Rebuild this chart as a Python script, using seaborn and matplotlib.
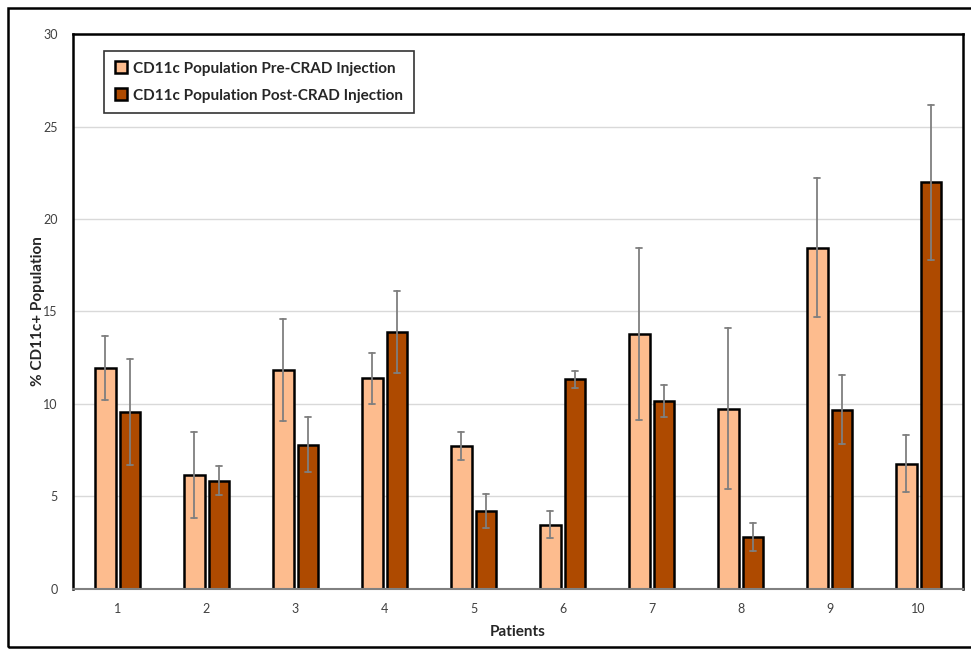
"""
    Grafico de barras agrupadas: populacao CD11c+ antes e depois da injecao CRAD,
    por paciente, com barras de erro.
"""

import pandas as pd
from matplotlib import pyplot as plt
from matplotlib.patches import Rectangle
import seaborn as sns

# Dados
patients = ['1', '2', '3', '4', '5', '6', '7', '8', '9', '10']
pre_values = [11.95, 6.15, 11.86, 11.40, 7.74, 3.47, 13.80, 9.75, 18.45, 6.78]
pre_errors = [1.72, 2.33, 2.76, 1.38, 0.76, 0.74, 4.65, 4.37, 3.75, 1.53]
post_values = [9.57, 5.85, 7.80, 13.90, 4.22, 11.34, 10.17, 2.80, 9.70, 21.99]
post_errors = [2.85, 0.78, 1.50, 2.20, 0.92, 0.45, 0.85, 0.77, 1.87, 4.18]

PRE_LABEL = 'CD11c Population Pre-CRAD Injection'
POST_LABEL = 'CD11c Population Post-CRAD Injection'

# Duas linhas por barra (valor - erro, valor + erro): a media da o valor
# e o intervalo min/max da a barra de erro
rows = []
for label, values, errors in [(PRE_LABEL, pre_values, pre_errors),
                              (POST_LABEL, post_values, post_errors)]:
    for patient, value, err in zip(patients, values, errors):
        rows.append({'patient': patient, 'group': label, 'pct': value - err})
        rows.append({'patient': patient, 'group': label, 'pct': value + err})
df = pd.DataFrame(rows)

sns.set_theme(style='white')
plt.rcParams['font.family'] = ['Lato', 'DejaVu Sans']

fig = plt.figure(figsize=(9.71, 6.49), dpi=100)
ax = fig.add_axes([0.0752, 0.0925, 0.9166, 0.8551])

sns.barplot(data=df, x='patient', y='pct', hue='group',
            order=patients, hue_order=[PRE_LABEL, POST_LABEL],
            palette=['#FDBC8E', '#AE4A00'],
            estimator='mean', errorbar=lambda v: (v.min(), v.max()),
            width=0.56, gap=0.16, capsize=0.13,
            err_kws={'color': '#7F7F7F', 'linewidth': 1.3},
            edgecolor='black', linewidth=1.8, saturation=1, ax=ax)

ax.set_ylim(0, 30)
ax.set_yticks([0, 5, 10, 15, 20, 25, 30])
ax.set_xlim(-0.5, 9.5)
ax.yaxis.grid(True, color='#D9D9D9', linewidth=1)
ax.set_axisbelow(True)

ax.tick_params(axis='both', length=0, labelsize=9, colors='#404040')
ax.tick_params(axis='y', pad=11)
ax.tick_params(axis='x', pad=10)

ax.set_xlabel('Patients', fontsize=11, fontweight='bold', labelpad=7)
ax.set_ylabel('% CD11c+ Population', fontsize=11, fontweight='bold', labelpad=-1)

for side in ['left', 'top', 'right']:
    ax.spines[side].set_color('black')
    ax.spines[side].set_linewidth(1.8)
ax.spines['bottom'].set_color('#808080')
ax.spines['bottom'].set_linewidth(1.5)

leg = ax.legend(loc='upper left', bbox_to_anchor=(0.035, 0.97),
                fontsize=11, frameon=True, fancybox=False,
                handlelength=0.8, handleheight=0.8, handletextpad=0.4,
                labelspacing=0.85, borderpad=0.7, borderaxespad=0)
leg.get_frame().set_edgecolor('black')
leg.get_frame().set_linewidth(1.2)
for text in leg.get_texts():
    text.set_fontweight('bold')

# Moldura externa da figura
fig.patches.append(Rectangle((0.008, 0.003), 1.0, 0.985, transform=fig.transFigure,
                             fill=False, edgecolor='black', linewidth=1.8))

fig.savefig('out.png', dpi=100)
